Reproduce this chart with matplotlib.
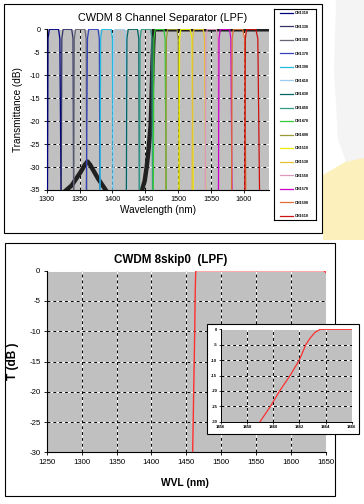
import matplotlib
matplotlib.use('Agg')
import matplotlib.pyplot as plt
import numpy as np
from matplotlib.patches import Rectangle, Polygon
from matplotlib.lines import Line2D

plt.rcParams['font.family'] = ['Liberation Sans', 'DejaVu Sans']
plt.rcParams['axes.unicode_minus'] = False

# ---------------- data: top chart ----------------
channels = ['CH1310', 'CH1330', 'CH1350', 'CH1370', 'CH1390', 'CH1410', 'CH1430', 'CH1450',
            'CH1470', 'CH1490', 'CH1510', 'CH1530', 'CH1550', 'CH1570', 'CH1590', 'CH1610']
ch_colors = ['#000080', '#333366', '#666677', '#3344bb', '#22bbdd', '#99ccee', '#006666', '#339988',
             '#33cc33', '#999933', '#eeee00', '#e6c030', '#dd99bb', '#cc00cc', '#e07030', '#cc1111']
# wavelength (nm) of each channel edge: bottom (-35 dB), knee (-2 dB), top corner (0 dB)
left_bottom = [1301, 1322, 1341, 1360, 1381, 1401, 1421, 1441, 1462, 1481, 1501, 1521, 1541, 1561, 1581, 1601]
left_knee   = [1302, 1323, 1342, 1362, 1382, 1402, 1422, 1442, 1463, 1482, 1502, 1522, 1542, 1562, 1582, 1602]
left_top    = [1304, 1325, 1344, 1364, 1384, 1404, 1424, 1444, 1465, 1484, 1504, 1524, 1544, 1564, 1584, 1604]
right_top   = [1318, 1338, 1358, 1378, 1398, 1418, 1438, 1458, 1478, 1498, 1518, 1538, 1558, 1578, 1598, 1618]
right_knee  = [1320, 1340, 1360, 1380, 1400, 1420, 1440, 1460, 1480, 1500, 1521, 1540, 1560, 1580, 1601, 1621]
right_bottom= [1322, 1341, 1361, 1381, 1401, 1422, 1441, 1461, 1482, 1502, 1523, 1542, 1562, 1582, 1603, 1624]
edge_levels = [-40, -2, 0, 0, -2, -40]

# LPF (black) curve
lpf_wl = [1322, 1330, 1338, 1345, 1352, 1358, 1362, 1366, 1372, 1378, 1385, 1392, np.nan,
          1440, 1445, 1449, 1452, 1455, 1458, 1459, 1460, 1461, 1462, 1463, 1640]
lpf_t = [-36, -35, -34, -32.5, -31, -29.5, -28.8, -29.5, -31, -32.5, -34, -35.5, np.nan,
         -36, -35, -33, -30, -26, -21, -17, -12, -7, -3, 0, 0]

# ---------------- data: bottom chart ----------------
skip_wl = [1459.0, 1459.8, 1460.5, 1461.3, 1462.0, 1462.5, 1462.8, 1463.2, 1463.6, 1466, 1647, 1650]
skip_t = [-30, -25, -20, -15, -10, -5, -3, -1, 0, 0, 0, -0.3]

W, H = 364, 504
fig = plt.figure(figsize=(W / 100, H / 100), dpi=100)
fig.patch.set_facecolor('white')


def fx(px):
    return px / W


def fy(py):
    return 1 - py / H


# background decoration (slide swoosh)
fig.add_artist(Polygon([(fx(336), fy(0)), (fx(364), fy(0)), (fx(364), fy(175)), (fx(350), fy(172)),
                        (fx(338), fy(140)), (fx(334), fy(70))], closed=True, transform=fig.transFigure,
                       facecolor='#f4f4f4', edgecolor='none', zorder=-3))
fig.add_artist(Polygon([(fx(323), fy(175)), (fx(345), fy(162)), (fx(364), fy(158)), (fx(364), fy(240)),
                        (fx(323), fy(240))], closed=True, transform=fig.transFigure,
                       facecolor='#fcf0bc', edgecolor='none', zorder=-2))

# outer frames
fig.add_artist(Rectangle((fx(4), fy(233)), fx(318), 229 / H, transform=fig.transFigure,
                         fill=True, facecolor='white', ec='black', lw=0.8, zorder=-1))
fig.add_artist(Rectangle((fx(4.7), fy(496)), fx(330.3), 253.3 / H, transform=fig.transFigure,
                         fill=True, facecolor='white', ec='black', lw=0.8, zorder=-1))


def style_grid(ax):
    ax.grid(True, color='white', linestyle='-', linewidth=0.7, zorder=0.5)
    ax.set_axisbelow(True)


def dash_grid(ax, xs, ys):
    for xv in xs:
        ax.axvline(xv, color='black', linestyle=(0, (3, 3)), linewidth=0.7, zorder=0.6)
    for yv in ys:
        ax.axhline(yv, color='black', linestyle=(0, (3, 3)), linewidth=0.7, zorder=0.6)


# ---------------- top chart ----------------
ax1 = fig.add_axes([fx(46.7), fy(190), fx(269 - 46.7), (190 - 29.3) / H])
ax1.set_facecolor('#c0c0c0')
ax1.set_xlim(1300, 1638)
ax1.set_ylim(-35, 0)
xt1 = [1300, 1350, 1400, 1450, 1500, 1550, 1600]
yt1 = [0, -5, -10, -15, -20, -25, -30, -35]
ax1.set_xticks(xt1)
ax1.set_yticks(yt1)
ax1.tick_params(labelsize=5.2, length=2.5, width=0.6, pad=2)
for s in ['top', 'right']:
    ax1.spines[s].set_visible(False)
for s in ['left', 'bottom']:
    ax1.spines[s].set_linewidth(0.8)
style_grid(ax1)
dash_grid(ax1, xt1[1:], yt1[1:-1])

ax1.plot(lpf_wl, lpf_t, color='#202020', lw=3.2, zorder=2)
handles = []
for i, name in enumerate(channels):
    xs = [left_bottom[i], left_knee[i], left_top[i], right_top[i], right_knee[i], right_bottom[i]]
    ax1.plot(xs, edge_levels, color=ch_colors[i], lw=0.9, zorder=3)
    handles.append(Line2D([0], [0], color=ch_colors[i], lw=0.9))

fig.text(fx(163), fy(18), 'CWDM 8 Channel Separator (LPF)', ha='center', va='center', fontsize=7.8)
fig.text(fx(18), fy(110), 'Transmittance (dB)', ha='center', va='center', rotation=90, fontsize=7.2)
fig.text(fx(158), fy(210), 'Wavelength (nm)', ha='center', va='center', fontsize=7.2)

# legend
lax = fig.add_axes([fx(274), fy(220), fx(315.7 - 274), (220 - 9.3) / H])
lax.set_xticks([])
lax.set_yticks([])
lax.set_facecolor('white')
for s in lax.spines.values():
    s.set_linewidth(0.8)
leg = lax.legend(handles, channels, loc='center', frameon=False, fontsize=2.8,
                 labelspacing=2.45, handlelength=3.2, handletextpad=0.6, borderpad=0.2)
for t in leg.get_texts():
    t.set_fontweight('bold')

# ---------------- bottom chart ----------------
ax2 = fig.add_axes([fx(46.7), fy(452.3), fx(326 - 46.7), (452.3 - 270.7) / H])
ax2.set_facecolor('#c0c0c0')
ax2.set_xlim(1250, 1650)
ax2.set_ylim(-30, 0)
xt2 = [1250, 1300, 1350, 1400, 1450, 1500, 1550, 1600, 1650]
yt2 = [0, -5, -10, -15, -20, -25, -30]
ax2.set_xticks(xt2)
ax2.set_yticks(yt2)
ax2.tick_params(labelsize=5.6, length=2.5, width=0.6, pad=2)
for s in ['top', 'right']:
    ax2.spines[s].set_visible(False)
for s in ['left', 'bottom']:
    ax2.spines[s].set_linewidth(0.8)
style_grid(ax2)
dash_grid(ax2, xt2[1:-1], yt2[1:-1])
ax2.plot(skip_wl, skip_t, color='#ff3030', lw=1.0, zorder=3)

fig.text(fx(171), fy(260), 'CWDM 8skip0  (LPF)', ha='center', va='center', fontsize=8.4, fontweight='bold')
fig.text(fx(12.7), fy(361.5), 'T (dB )', ha='center', va='center', rotation=90, fontsize=8.6, fontweight='bold')
fig.text(fx(185), fy(483), 'WVL (nm)', ha='center', va='center', fontsize=7.4, fontweight='bold')

# inset
fig.add_artist(Rectangle((fx(207), fy(434)), fx(152), 110 / H, transform=fig.transFigure,
                         facecolor='white', ec='black', lw=0.8, zorder=5))
ax3 = fig.add_axes([fx(220.7), fy(421.7), fx(131), 92.4 / H], zorder=6)
ax3.set_facecolor('#c0c0c0')
ax3.set_xlim(1456, 1466)
ax3.set_ylim(-30, 0)
xt3 = [1456, 1458, 1460, 1462, 1464, 1466]
yt3 = [0, -5, -10, -15, -20, -25, -30]
ax3.set_xticks(xt3)
ax3.set_yticks(yt3)
ax3.tick_params(labelsize=3.0, length=1.5, width=0.5, pad=1)
for t in ax3.get_xticklabels() + ax3.get_yticklabels():
    t.set_fontweight('bold')
for s in ['top', 'right']:
    ax3.spines[s].set_visible(False)
for s in ['left', 'bottom']:
    ax3.spines[s].set_linewidth(0.7)
style_grid(ax3)
dash_grid(ax3, xt3[1:-1], yt3[1:-1])
ax3.plot(skip_wl, skip_t, color='#ff3030', lw=0.9, zorder=3)

fig.savefig('out.png', dpi=100, facecolor='white')
